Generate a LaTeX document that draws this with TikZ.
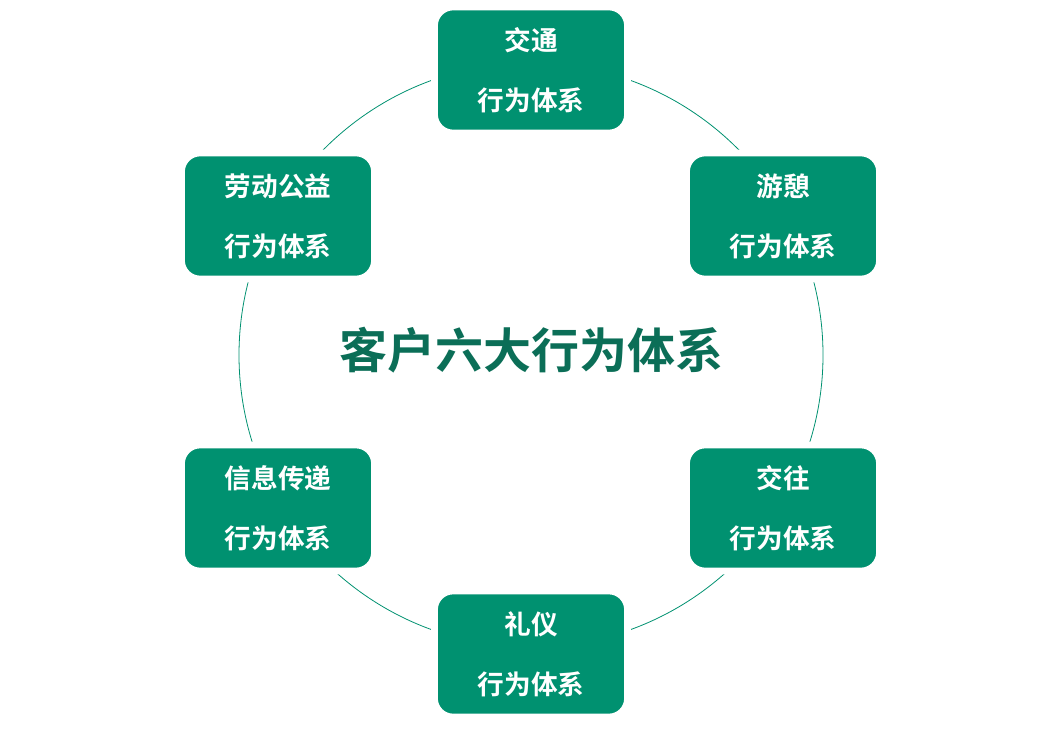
\documentclass[tikz,border=0pt]{standalone}
\usepackage{fontspec}
\newfontfamily\cjk{Noto Sans CJK SC Bold}
\definecolor{boxg}{HTML}{009170}
\definecolor{titleg}{HTML}{0B6E57}
\begin{document}
\begin{tikzpicture}[x=0.75pt,y=-0.75pt,
  box/.style={rounded corners=14pt,fill=boxg,draw=white,line width=5pt,minimum width=193pt*0.75,minimum height=126pt*0.75,inner sep=0pt,text=white,font=\cjk\fontsize{20}{45}\selectfont,align=center}]
\useasboundingbox (0,0) rectangle (1062,736);
\draw[boxg,line width=0.6pt] (531,355) circle[radius=292*0.75pt];
\node[box] (a) at (531,70) {交通\\行为体系};
\node[box] (b) at (783,216) {游憩\\行为体系};
\node[box] (c) at (783,508) {交往\\行为体系};
\node[box] (d) at (531,654) {礼仪\\行为体系};
\node[box] (e) at (278,508) {信息传递\\行为体系};
\node[box] (f) at (278,216) {劳动公益\\行为体系};
\node[text=titleg,font=\cjk\fontsize{36}{40}\selectfont] (t) at (531,350) {客户六大行为体系};
\end{tikzpicture}
\end{document}
